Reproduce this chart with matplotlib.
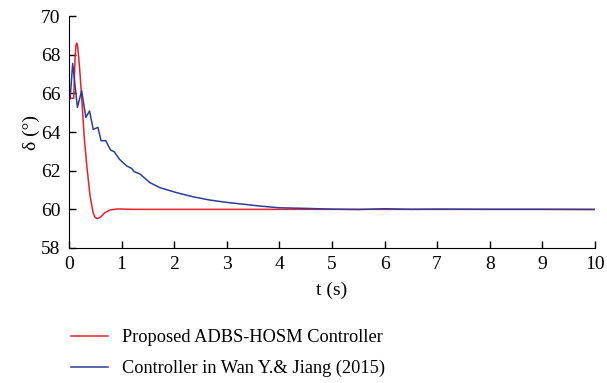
import numpy as np
import matplotlib.pyplot as plt

plt.rcParams['font.family'] = ['Liberation Serif', 'DejaVu Serif']

# Proposed controller response
t_red = [0.0, 0.02, 0.09, 0.10, 0.115, 0.13, 0.145, 0.16, 0.18, 0.21, 0.25, 0.29, 0.34,
         0.40, 0.46, 0.50, 0.54, 0.60, 0.68, 0.78, 0.93, 1.2, 2.0, 4.0, 6.0, 8.0, 10.0]
d_red = [65.75, 65.75, 65.75, 66.6, 67.8, 68.45, 68.6, 68.5, 68.0, 67.0, 65.4, 63.7, 62.2,
         60.7, 59.8, 59.58, 59.52, 59.6, 59.82, 59.97, 60.02, 60.0, 60.0, 60.0, 60.0, 60.0, 60.0]

# Reference controller (Wan & Jiang 2015)
t_blue = [0.0, 0.02, 0.07, 0.16, 0.24, 0.32, 0.39, 0.46, 0.55, 0.61, 0.70, 0.79,
          0.86, 0.96, 1.03, 1.10, 1.19, 1.24, 1.35, 1.54, 1.73, 2.05, 2.36, 2.68,
          3.0, 3.63, 4.0, 4.5, 5.0, 5.5, 6.0, 6.5, 7.0, 8.0, 9.0, 10.0]
d_blue = [65.7, 65.7, 67.55, 65.28, 66.14, 64.76, 65.09, 64.14, 64.24, 63.55, 63.55, 63.07,
          62.98, 62.59, 62.41, 62.24, 62.12, 61.95, 61.83, 61.38, 61.12, 60.86, 60.65, 60.48,
          60.36, 60.17, 60.08, 60.05, 60.01, 59.99, 60.03, 60.0, 60.01, 60.0, 60.0, 59.99]

fig = plt.figure(figsize=(6.07, 3.83), dpi=100)
ax = fig.add_axes([0.1137, 0.3525, 0.8663, 0.6055])

l1, = ax.plot(t_red, d_red, color='#e8202a', lw=1.1,
              label='Proposed ADBS-HOSM Controller')
l2, = ax.plot(t_blue, d_blue, color='#2b3f98', lw=1.1,
              label='Controller in Wan Y.& Jiang (2015)')

ax.set_xlim(0, 10)
ax.set_ylim(58, 70)
ax.set_xticks(range(0, 11))
ax.set_yticks(range(58, 71, 2))
ax.spines['top'].set_visible(False)
ax.spines['right'].set_visible(False)
ax.tick_params(direction='in', length=5, width=1, labelsize=14, pad=6)
ax.set_xlabel('t (s)', fontsize=14, labelpad=6)
ax.set_ylabel('δ (°)', fontsize=14, labelpad=1)

fig.legend(handles=[l1, l2], loc='upper left', bbox_to_anchor=(0.105, 0.16),
           frameon=False, fontsize=13.2, handlelength=2.0, handletextpad=0.8,
           labelspacing=0.75, borderaxespad=0)

fig.savefig('out.png', dpi=100)
